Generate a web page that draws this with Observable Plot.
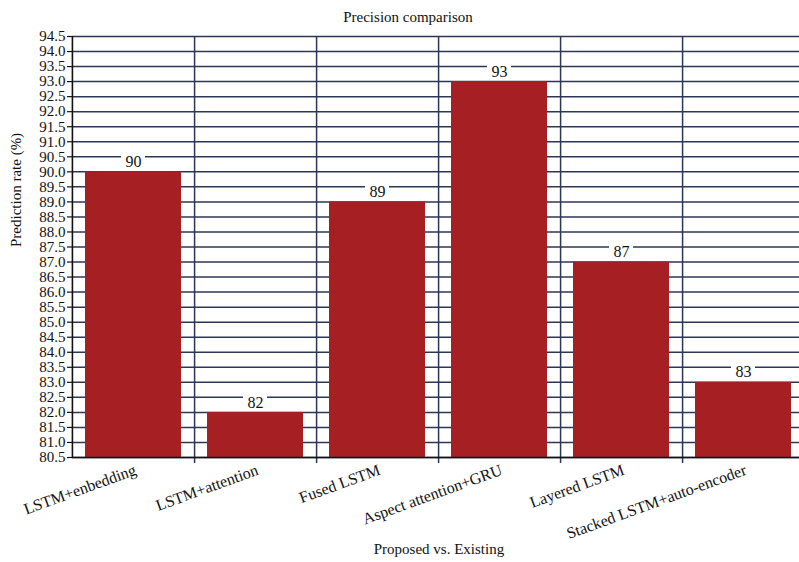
<!DOCTYPE html>
<html>
<head>
<meta charset="utf-8">
<script src="https://cdn.jsdelivr.net/npm/d3@7"></script>
<script src="https://cdn.jsdelivr.net/npm/@observablehq/plot@0.6"></script>
<style>
  html, body { margin: 0; padding: 0; background: #fff; }
  #chart svg, #chart svg text { font-family: "Liberation Serif", "Times New Roman", serif !important; }
</style>
</head>
<body>
<div id="chart"></div>
<script>
// Precision of the proposed model against existing approaches
const categories = [
  "LSTM+enbedding",
  "LSTM+attention",
  "Fused LSTM",
  "Aspect attention+GRU",
  "Layered LSTM",
  "Stacked LSTM+auto-encoder"
];
const precision = [90, 82, 89, 93, 87, 83];

const yTicks = [80.5, 81.0, 81.5, 82.0, 82.5, 83.0, 83.5, 84.0, 84.5, 85.0, 85.5,
  86.0, 86.5, 87.0, 87.5, 88.0, 88.5, 89.0, 89.5, 90.0, 90.5, 91.0, 91.5,
  92.0, 92.5, 93.0, 93.5, 94.0, 94.5];
const yMin = 80.5;
const yMax = 94.5;

const title = "Precision comparison";
const xLabel = "Proposed vs. Existing";
const yLabel = "Prediction rate (%)";

const data = categories.map((method, i) => ({method, value: precision[i]}));

const W = 799, H = 562;
const left = 72, right = 805;           // the plot area runs past the window edge
const step = (right - left) / categories.length;

const gridColor = "#2c3656";
const barColor = "#a61f23";
const font = "'Liberation Serif', 'Times New Roman', serif";

const chart = Plot.plot({
  width: W,
  height: H,
  marginTop: 36,
  marginBottom: 105,
  marginLeft: left,
  marginRight: 0,
  style: {fontFamily: font, color: "#111", background: "#fff"},
  x: {domain: categories, range: [left, right], paddingInner: 0.21, paddingOuter: 0.105, axis: null},
  y: {domain: [yMin, yMax], axis: null},
  marks: [
    // horizontal grid at every tick
    Plot.ruleY(yTicks, {stroke: gridColor, strokeWidth: 1.5}),
    // vertical separators between categories, extending below as ticks
    Plot.ruleX(categories, {x: d => d, dx: step / 2, stroke: gridColor, strokeWidth: 1.5, insetBottom: -6}),
    Plot.barY(data, {x: "method", y1: yMin, y2: "value", fill: barColor}),
    // white plates behind the value labels
    Plot.barY(data, {x: "method", y1: "value", y2: "value", fill: "white",
      insetLeft: 36, insetRight: 36, insetTop: -19, insetBottom: 2}),
    Plot.text(data, {x: "method", y: "value", text: d => String(d.value),
      dy: -10, fontSize: 16, fontFamily: font, fill: "#111", lineAnchor: "middle"}),
    // axis lines
    Plot.ruleY([yMin], {stroke: "#111", strokeWidth: 1.6}),
    Plot.ruleX(categories.slice(0, 1), {x: d => d, dx: -step / 2, stroke: "#111", strokeWidth: 1.6}),
    Plot.axisY({ticks: yTicks, tickFormat: d => d.toFixed(1), fontSize: 15, fontFamily: font,
      tickSize: 5, tickPadding: 2, stroke: "#111", strokeWidth: 1.2, label: null}),
    // rotated category labels
    Plot.text(categories, {x: d => d, frameAnchor: "bottom", rotate: -20, fontFamily: font,
      textAnchor: "end", lineAnchor: "top", dy: 6, fontSize: 16, fill: "#111"}),
    // titles
    Plot.text([title], {frameAnchor: "top", dx: -28, dy: -15, fontSize: 15, fontFamily: font, fill: "#111", lineAnchor: "bottom"}),
    Plot.text([xLabel], {frameAnchor: "bottom", dx: 3, dy: 96, fontSize: 15, fontFamily: font, fill: "#111", lineAnchor: "bottom"}),
    Plot.text([yLabel], {frameAnchor: "left", dx: -56, rotate: -90, fontSize: 15, fontFamily: font, fill: "#111", lineAnchor: "middle"})
  ]
});

document.getElementById("chart").append(chart);
</script>
</body>
</html>
